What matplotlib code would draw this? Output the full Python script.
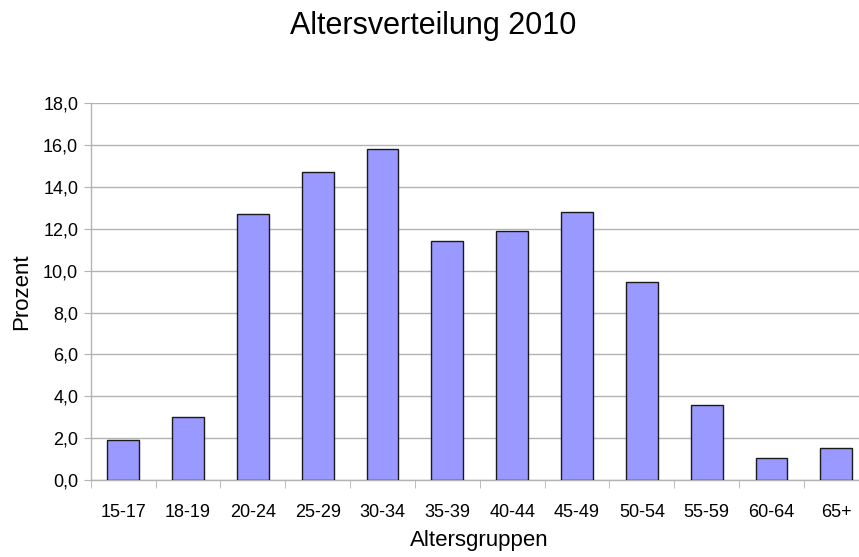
import matplotlib
matplotlib.use("Agg")
import matplotlib.pyplot as plt
from matplotlib.ticker import FixedLocator, FuncFormatter, MultipleLocator

groups = ["15-17", "18-19", "20-24", "25-29", "30-34", "35-39",
          "40-44", "45-49", "50-54", "55-59", "60-64", "65+"]
percent = [1.9, 3.0, 12.7, 14.7, 15.8, 11.4, 11.9, 12.8, 9.45, 3.6, 1.05, 1.55]

plt.rcParams['font.family'] = ['Liberation Sans', 'DejaVu Sans']

fig = plt.figure(figsize=(8.59, 5.57), dpi=100)
ax = fig.add_axes([0.1056, 0.1382, 0.9058, 0.6763])

x = list(range(len(groups)))
ax.bar(x, percent, width=0.49, color='#9999ff', edgecolor='#1a1a1a', linewidth=1.0, zorder=3)

ax.set_xlim(-0.5, len(groups) - 0.5)
ax.set_ylim(0, 18)

# y axis: steps of 2 with comma decimals
ax.yaxis.set_major_locator(MultipleLocator(2))
ax.yaxis.set_major_formatter(FuncFormatter(lambda v, p: f"{v:.1f}".replace('.', ',')))
ax.grid(axis='y', color='#b3b3b3', linewidth=1.0, zorder=0)

# x axis: labels at centres, tick marks at boundaries
ax.set_xticks(x)
ax.set_xticklabels(groups)
ax.xaxis.set_minor_locator(FixedLocator([i + 0.5 for i in range(-1, len(groups))]))
ax.tick_params(axis='x', which='major', length=0, pad=17, labelsize=13)
ax.tick_params(axis='x', which='minor', length=6, color='#b3b3b3', direction='out')
ax.tick_params(axis='y', length=5, color='#b3b3b3', labelsize=13, pad=4)

for side in ['top', 'right']:
    ax.spines[side].set_visible(False)
for side in ['left', 'bottom']:
    ax.spines[side].set_color('#b3b3b3')
    ax.spines[side].set_linewidth(1.0)

ax.set_xlabel('Altersgruppen', fontsize=16, labelpad=7)
ax.set_ylabel('Prozent', fontsize=16, labelpad=8)
fig.text(0.504, 0.953, 'Altersverteilung 2010', fontsize=22, ha='center', va='center')

fig.savefig('out.png', dpi=100)
